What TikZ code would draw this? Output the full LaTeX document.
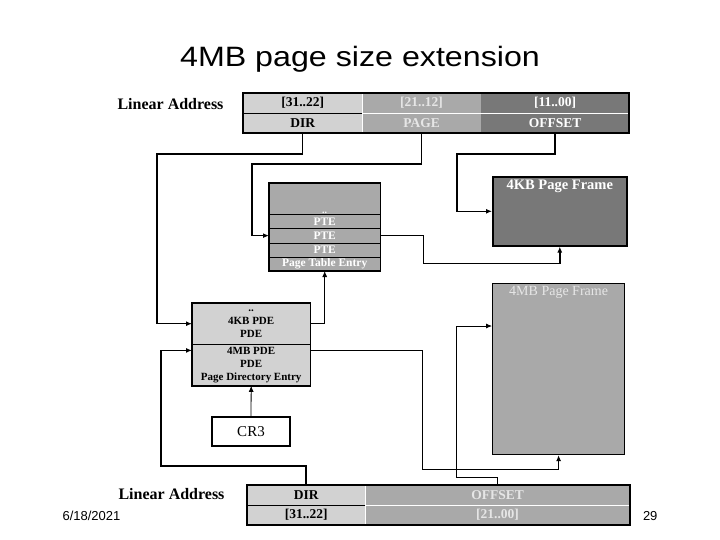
\documentclass[tikz,border=0pt]{standalone}
\usepackage{fontspec}
\setmainfont{Liberation Serif}
\newfontfamily\sansfont{Liberation Sans}
\usepackage{tikz}
\usetikzlibrary{positioning, arrows.meta}
\definecolor{stiplight}{HTML}{D2D2D2}
\definecolor{stipmid}{HTML}{A9A9A9}
\definecolor{stipdark}{HTML}{787878}
\definecolor{paletext}{HTML}{E6E6E6}

\begin{document}
\begin{tikzpicture}[>={Latex[length=6pt, width=5pt]}, x=1pt, y=-1pt,
    cell/.style={inner sep=0pt, minimum height=19.5pt, font=\fontsize{13.5}{13.5}\selectfont\bfseries},
    ptrow/.style={inner sep=0pt, fill=stipmid, minimum width=111pt, minimum height=13.75pt,
        text=white, font=\fontsize{11.5}{11.5}\selectfont\bfseries},
    pderow/.style={inner sep=0pt, fill=stiplight, minimum width=118pt, minimum height=41pt,
        align=center, font=\fontsize{11}{13}\selectfont\bfseries},
    box/.style={draw, line width=1.6pt},
    link/.style={line width=1.5pt},
    thinlink/.style={line width=0.8pt},
    addr/.style={font=\fontsize{16}{16}\selectfont\bfseries}]

    \useasboundingbox (0,0) rectangle (720,540);

    % 1. Tiêu đề
    \node[font=\sansfont\fontsize{28}{28}\selectfont, anchor=base] (title) at (360,67)
        {\scalebox{1.15}[1]{4MB page size extension}};

    % 2. Linear Address phía trên
    \node[addr, anchor=east] (toplabel) at (227,104) {Linear Address};
    \node[cell, fill=stiplight, minimum width=119pt, anchor=north west] (topdirbits) at (243,93) {[31..22]};
    \node[cell, fill=stiplight, minimum width=119pt, below=0pt of topdirbits] (topdir) {DIR};
    \node[cell, fill=stipmid, minimum width=118pt, text=paletext, right=0pt of topdirbits] (toppagebits) {[21..12]};
    \node[cell, fill=stipmid, minimum width=118pt, text=paletext, below=0pt of toppagebits] (toppage) {PAGE};
    \node[cell, fill=stipdark, minimum width=148pt, text=white, right=0pt of toppagebits] (topoffsetbits) {[11..00]};
    \node[cell, fill=stipdark, minimum width=148pt, text=white, below=0pt of topoffsetbits] (topoffset) {OFFSET};
    \draw[thin] (topdir.north west) -- (topdir.north east);
    \draw[white] (toppage.north west) -- (topoffset.north east);
    \draw[box] (topdirbits.north west) rectangle (topoffset.south east);

    % 3. Bảng trang
    \node[ptrow, minimum height=31pt, anchor=north west,
        label={[text=white, font=\bfseries, anchor=south, inner sep=1pt]south:..}] (ptdots) at (269,183) {};
    \node[ptrow, below=0pt of ptdots] (pte1) {PTE};
    \node[ptrow, below=0pt of pte1] (pte2) {PTE};
    \node[ptrow, below=0pt of pte2] (pte3) {PTE};
    \node[ptrow, below=0pt of pte3] (ptentry) {Page Table Entry};
    \foreach \row in {pte1, pte2, pte3, ptentry} {
        \draw[thin] (\row.north west) -- (\row.north east);
    }
    \draw[box] (ptdots.north west) rectangle (ptentry.south east);

    % 4. Khung trang
    \node[box, fill=stipdark, minimum width=134pt, minimum height=69pt, anchor=north west,
        label={[text=white, anchor=north, font=\fontsize{14.5}{14.5}\selectfont\bfseries]north:4KB Page Frame}] (frame4k) at (492,176) {};
    \node[box, line width=1.2pt, fill=stipmid, minimum width=132pt, minimum height=171pt, anchor=north west,
        label={[text=paletext, anchor=north, font=\fontsize{14}{14}\selectfont]north:4MB Page Frame}] (frame4m) at (492,283) {};

    % 5. Thư mục trang và CR3
    \node[pderow, anchor=north west] (pde4k) at (192,303) {..\\4KB PDE\\PDE};
    \node[pderow, below=0pt of pde4k] (pde4m) {4MB PDE\\PDE\\Page Directory Entry};
    \draw[thin] (pde4m.north west) -- (pde4m.north east);
    \draw[box] (pde4k.north west) rectangle (pde4m.south east);
    \node[box, fill=white, minimum width=78pt, minimum height=29pt, inner sep=0pt,
        font=\fontsize{15}{15}\selectfont] (cr3) at (251,431.5) {CR3};

    % 6. Linear Address phía dưới
    \node[addr, anchor=east] (botlabel) at (228,494) {Linear Address};
    \node[cell, fill=stiplight, minimum width=118pt, anchor=north west] (botdir) at (247,485) {DIR};
    \node[cell, fill=stiplight, minimum width=118pt, below=0pt of botdir] (botdirbits) {[31..22]};
    \node[cell, fill=stipmid, minimum width=264pt, text=paletext, right=0pt of botdir] (botoffset) {OFFSET};
    \node[cell, fill=stipmid, minimum width=264pt, text=paletext, below=0pt of botoffset] (botoffsetbits) {[21..00]};
    \draw[thin] (botdirbits.north west) -- (botdirbits.north east);
    \draw[white] (botoffsetbits.north west) -- (botoffsetbits.north east);
    \draw[box] (botdir.north west) rectangle (botoffsetbits.south east);

    % 7. Các mũi tên
    \draw[link, ->] (topdir.south) -- ++(0,21) -| ([xshift=-35pt]pde4k.west) -- (pde4k.west);
    \draw[link, ->] (toppage.south) -- ++(0,31) -| ([xshift=-17pt]pte2.west) -- (pte2.west);
    \draw[link, ->] (topoffset.south) -- ++(0,21) -| ([xshift=-35pt]frame4k.west) -- (frame4k.west);
    \draw[link, ->] (pte2.east) -- ++(43,0) |- ([yshift=-17pt]frame4k.south) -- (frame4k.south);
    \draw[thinlink, ->] (pde4k.east) -| (ptentry.south);
    \draw[thinlink, ->] ([yshift=-6pt]pde4m.north east) -- ++(112,0) |- ([yshift=-14pt]frame4m.south) -- (frame4m.south);
    \draw[thinlink, ->] (cr3.north) -- (pde4m.south);
    \draw[link, ->] (botdir.north) -- ++(0,-19) -| ([xshift=-31pt, yshift=-6pt]pde4m.north west)
        -- ([yshift=-6pt]pde4m.north west);
    \draw[thinlink, ->] (botoffset.north) -- ++(0,-8) -| ([xshift=-36pt, yshift=-43pt]frame4m.north west)
        -- ([yshift=-43pt]frame4m.north west);

    % 8. Chân trang
    \node[font=\sansfont\fontsize{13}{13}\selectfont, anchor=west] (date) at (59,516) {6/18/2021};
    \node[font=\sansfont\fontsize{13}{13}\selectfont, anchor=east] (pagenum) at (661,516) {29};
\end{tikzpicture}
\end{document}
